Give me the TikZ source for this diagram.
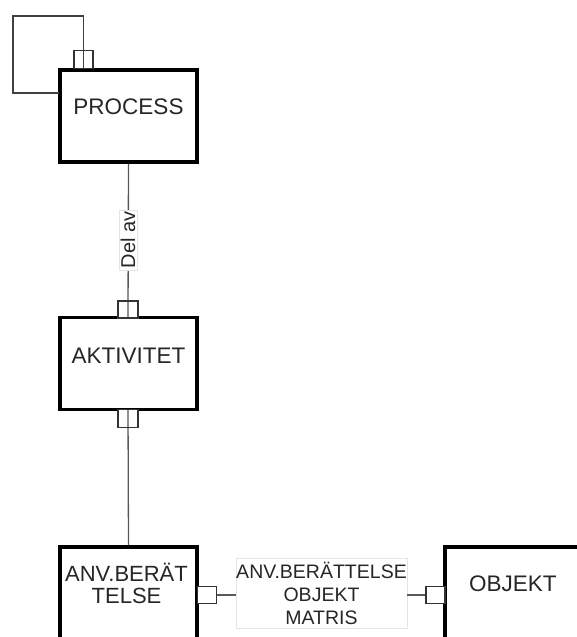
\documentclass[tikz,border=0pt]{standalone}
\usepackage{fontspec}
\setmainfont{Liberation Sans}
\begin{document}
\begin{tikzpicture}[x=1pt,y=-1pt,
  entity/.style={draw=black, line width=3.6pt, minimum width=137pt, minimum height=92pt, inner sep=0pt},
  etext/.style={font=\fontsize{22.5}{22.5}\selectfont, text=black!85, align=center, inner sep=0pt},
  port/.style={draw=black!80, line width=1.4pt, inner sep=0pt, fill=white},
  rel/.style={draw=black!65, line width=1.3pt},
  rlabel/.style={fill=white, draw=black!10, line width=0.6pt, text=black!85, inner sep=1.5pt, align=center}]
\clip (0,0) rectangle (577,637);
\fill[white] (0,0) rectangle (577,637);

% entities
\node[entity] (proc) at (128.5,116) {};
\node[entity] (akt)  at (128.5,363.5) {};
\node[entity, minimum height=110pt] (anv) at (128.5,602) {};
\node[entity, minimum width=160pt, minimum height=110pt] (obj) at (525,602) {};

\node[etext] (proct) at (128.5,106.5) {PROCESS};
\node[etext] (aktt)  at (128.5,356) {AKTIVITET};
\node[etext, font=\fontsize{22}{21.5}\selectfont] (anvt) at (126.5,583.5) {ANV.BERÄT\\TELSE};
\node[etext, anchor=west] (objt) at (469,584) {OBJEKT};

% relationship: process hierarchy (self reference)
\coordinate (la) at (83.5,16);
\coordinate (lb) at (13,16);
\coordinate (lc) at (13,93);
\coordinate (ld) at (58.5,93);
\draw[rel, draw=black!75] (83.5,68) -- (la) -- (lb) -- (lc) -- (ld);
\node[port, minimum width=19pt, minimum height=18pt, fill=none] (p1) at (83.5,59.5) {};

% process -> activity
\node[port, minimum width=20pt, minimum height=17pt] (p2) at (128,309.5) {};
\draw[rel] (proc.south) -- (p2.south);
\node[port, minimum width=20pt, minimum height=17pt, fill=none] at (128,309.5) {};
\node[rlabel, rotate=90, font=\fontsize{20}{20}\selectfont] (delav) at (128,240) {Del av};

% activity -> user story
\node[port, minimum width=20pt, minimum height=18pt] (p3) at (128,418.5) {};
\draw[rel] (p3.north) -- (anv.north);
\node[port, minimum width=20pt, minimum height=18pt, fill=none] at (128,418.5) {};

% user story <-> object via matrix
\node[rlabel, minimum width=171pt, minimum height=70pt, inner sep=0pt,
      font=\fontsize{19.5}{23}\selectfont] (mat) at (321.5,593) {ANV.BERÄTTELSE\\OBJEKT\\MATRIS};
\node[port, minimum width=19pt, minimum height=17pt] (p4) at (207,595) {};
\node[port, minimum width=19pt, minimum height=17pt] (p5) at (435.5,595) {};
\draw[rel] (p4.east) -- (mat.west |- p4.east);
\draw[rel] (mat.east |- p5.west) -- (p5.west);
\end{tikzpicture}
\end{document}
